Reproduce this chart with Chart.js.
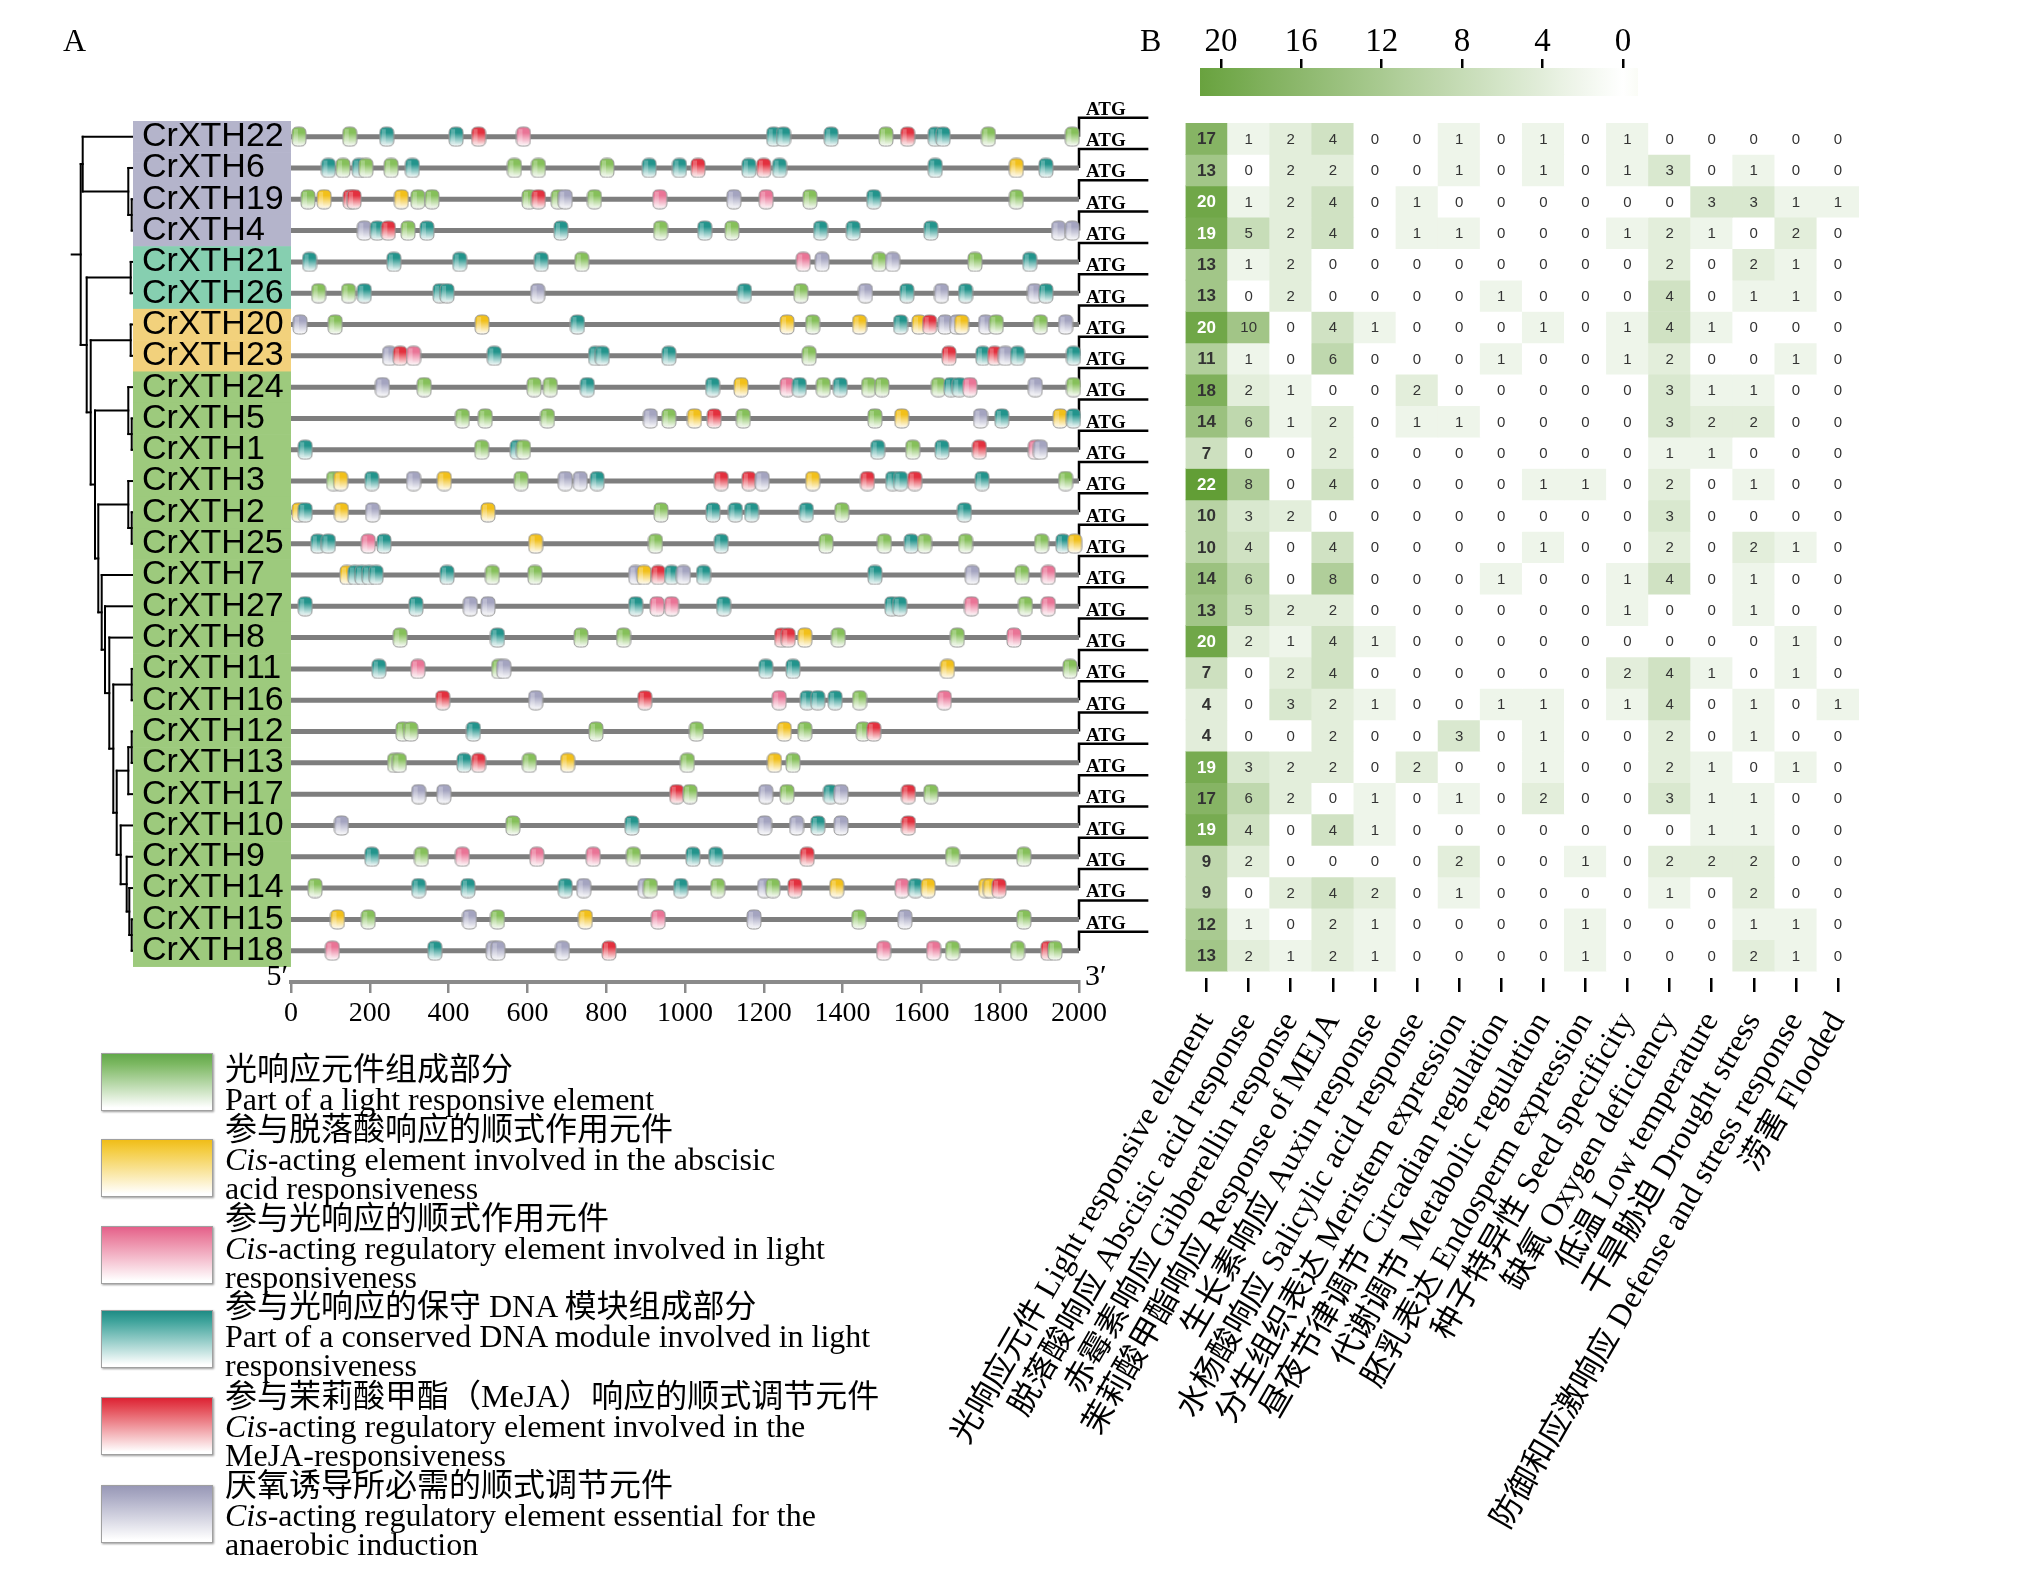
<!DOCTYPE html>
<html><head><meta charset="utf-8">
<script src="https://cdn.jsdelivr.net/npm/chart.js@4.4.1/dist/chart.umd.min.js"></script>
<style>
html,body{margin:0;padding:0;background:#fff;}
#page{position:relative;width:2023px;height:1577px;overflow:hidden;background:#fff;}
canvas{position:absolute;}
.panel{position:absolute;font-family:'Liberation Serif',serif;font-size:32px;line-height:36px;color:#000;}
.lg-box{position:absolute;left:101px;width:110px;height:56px;border:1px solid #a0a0a0;box-shadow:1px 1px 2px rgba(0,0,0,0.4);}
.lg-text{position:absolute;left:225px;font-family:'Liberation Serif','Noto Sans CJK SC',serif;font-size:32px;line-height:29.5px;white-space:nowrap;color:#000;}
</style></head>
<body><div id="page">
<canvas id="dendro" width="80" height="1060" style="left:60px;top:0;width:80px;height:1060px"></canvas>
<canvas id="tracks" width="1200" height="1060" style="left:0;top:0;width:1200px;height:1060px"></canvas>
<canvas id="heat" width="1123" height="1577" style="left:900px;top:0;width:1123px;height:1577px"></canvas>
<canvas id="cbar" width="520" height="110" style="left:1150px;top:0;width:520px;height:110px"></canvas>

<div class="panel" style="left:63px;top:22px">A</div>
<div class="panel" style="left:1140px;top:22px">B</div>

<div class="lg-box" style="top:1053px;background:linear-gradient(to bottom,#62a84a 0%,#7cb862 18%,#ffffff 96%)"></div>
<div class="lg-text" style="top:1055px">光响应元件组成部分<br>Part of a light responsive element</div>
<div class="lg-box" style="top:1139px;background:linear-gradient(to bottom,#f0bd18 0%,#f4cc40 18%,#ffffff 96%)"></div>
<div class="lg-text" style="top:1115px">参与脱落酸响应的顺式作用元件<br><i>Cis</i>-acting element involved in the abscisic<br>acid responsiveness</div>
<div class="lg-box" style="top:1226px;background:linear-gradient(to bottom,#e4608a 0%,#ea7f9e 18%,#ffffff 96%)"></div>
<div class="lg-text" style="top:1204px">参与光响应的顺式作用元件<br><i>Cis</i>-acting regulatory element involved in light<br>responsiveness</div>
<div class="lg-box" style="top:1310px;background:linear-gradient(to bottom,#1f8b84 0%,#3ea39b 18%,#ffffff 96%)"></div>
<div class="lg-text" style="top:1292px">参与光响应的保守 DNA 模块组成部分<br>Part of a conserved DNA module involved in light<br>responsiveness</div>
<div class="lg-box" style="top:1397px;background:linear-gradient(to bottom,#dd2233 0%,#e44a55 18%,#ffffff 96%)"></div>
<div class="lg-text" style="top:1382px">参与茉莉酸甲酯（MeJA）响应的顺式调节元件<br><i>Cis</i>-acting regulatory element involved in the<br>MeJA-responsiveness</div>
<div class="lg-box" style="top:1485px;background:linear-gradient(to bottom,#9898b6 0%,#aaaac4 18%,#ffffff 96%)"></div>
<div class="lg-text" style="top:1471px">厌氧诱导所必需的顺式调节元件<br><i>Cis</i>-acting regulatory element essential for the<br>anaerobic induction</div>
</div>
<script>
// ---------------- DATA ----------------
const genes = ['CrXTH22','CrXTH6','CrXTH19','CrXTH4','CrXTH21','CrXTH26','CrXTH20','CrXTH23','CrXTH24',
  'CrXTH5','CrXTH1','CrXTH3','CrXTH2','CrXTH25','CrXTH7','CrXTH27','CrXTH8','CrXTH11','CrXTH16',
  'CrXTH12','CrXTH13','CrXTH17','CrXTH10','CrXTH9','CrXTH14','CrXTH15','CrXTH18'];
const cladeGroup = [0,0,0,0,1,1,2,2,3,3,3,3,3,3,3,3,3,3,3,3,3,3,3,3,3,3,3];

// element sites per gene: type code + position (bp); G light-part, Y ABA, P light cis, T conserved DNA module, R MeJA, A anaerobic
const elementSites = [
"G20 G149 T243 T419 R476 P590 T1225 T1250 T1371 G1510 R1565 T1635 T1655 G1770 G1983",
"T95 G132 T173 G190 G254 T308 G567 G628 G802 T909 T986 R1033 T1162 R1200 T1240 T1635 Y1841 T1916",
"G43 Y84 R150 R160 Y280 G322 G358 G604 R628 G678 A696 G770 P936 A1124 P1206 G1317 T1479 G1841",
"A186 T219 R247 G297 T345 T685 G938 T1050 G1119 T1344 T1427 T1624 A1948 A1983",
"T47 T261 T428 T635 G738 P1300 A1348 G1493 A1527 G1736 T1875",
"G70 G146 T186 T378 T396 A626 T1151 G1294 A1458 T1563 A1651 T1712 A1887 T1916",
"A23 G112 Y485 T727 Y1259 G1324 Y1443 T1547 Y1594 R1621 A1660 A1690 Y1702 A1763 G1790 G1902 A1966",
"A250 R277 P311 T516 T773 T790 T959 G1315 R1670 T1756 R1786 A1813 T1844 T1986",
"A232 G338 G617 G658 T752 T1070 Y1142 P1259 T1290 G1351 T1394 G1466 G1500 G1643 T1675 T1696 P1723 A1889 G1986",
"G435 G493 G651 A912 G959 Y1024 R1074 G1148 G1482 Y1550 A1750 T1804 Y1952 T1986",
"T36 G484 T574 G590 T1489 G1578 T1652 R1747 P1889 A1902",
"G108 Y126 T205 A311 Y389 G584 A696 A734 T777 R1092 R1162 A1196 Y1324 R1463 T1527 T1547 R1583 T1754 G1966",
"Y20 T36 Y128 A207 Y500 G939 T1071 T1128 T1169 T1308 G1398 T1709",
"T68 T95 P196 T236 Y621 G925 T1092 G1358 G1506 T1574 G1608 G1712 G1905 T1959 Y1989",
"Y142 T162 T180 T198 T216 T396 G511 G619 A875 Y896 R932 T966 A996 T1047 T1482 A1729 G1855 P1922",
"T36 T317 A455 A500 T875 P929 P966 T1098 T1525 T1545 P1727 G1864 P1922",
"G277 T524 G736 G844 R1245 R1262 Y1304 G1389 G1691 P1835",
"T223 P322 G527 A540 T1205 T1274 Y1666 G1977",
"R385 A621 R898 P1239 T1310 T1337 T1381 G1443 P1658",
"G284 G304 T463 G774 G1029 Y1252 G1304 G1452 R1479",
"G263 G275 T439 R476 G605 Y702 G1006 Y1227 G1274",
"A324 A388 R979 G1013 A1205 G1259 T1369 A1396 R1567 G1624",
"A128 G563 T865 A1202 A1283 T1337 A1396 R1567",
"T205 G331 P435 P624 P767 G869 T1020 T1078 R1310 G1679 G1860",
"G61 T324 T449 T696 A743 A898 G912 T989 G1083 A1202 G1223 R1279 Y1385 P1551 T1585 Y1617 Y1763 Y1775 R1797",
"Y118 G196 A453 G524 Y747 P932 A1175 G1441 A1558 G1860",
"P105 T365 A513 A525 A689 R807 P1504 P1631 G1679 G1844 R1921 G1939"
];
const trackLength = 2000;
const trackTicks = [0,200,400,600,800,1000,1200,1400,1600,1800,2000];

// dendrogram (leaf = gene index, node = [height, childA, childB])
const cladeL = [12.3, 22, [6.3, 23, [3.7, 24, [1.3, 25, 26]]]];
const cladeK = [16.3, [4.7, [1.3, 19, 20], 21], cladeL];
const cladeJ = [19.7, [1.3, 17, 18], cladeK];
const cladeI = [23.7, 16, cladeJ];
const cladeH = [28, 15, cladeI];
const cladeG = [31.3, 14, cladeH];
const cladeF = [34.7, [4.7, 11, [1.3, 12, 13]], cladeG];
const cladeE = [38, [4.7, 8, [1.3, 9, 10]], cladeF];
const cladeD = [42.3, [2.3, 6, 7], cladeE];
const cladeC = [46.3, [2.3, 4, 5], cladeD];
const cladeA = [50.3, 0, [4.7, 1, [1.3, 2, 3]]];
const dendroRoot = [52.3, cladeA, cladeC];
const rootStub = 61.3;

const responseCategories = [
 '光响应元件 Light responsive element','脱落酸响应 Abscisic acid response','赤霉素响应 Gibberellin response',
 '茉莉酸甲酯响应 Response of MEJA','生长素响应 Auxin response','水杨酸响应 Salicylic acid response',
 '分生组织表达 Meristem expression','昼夜节律调节 Circadian regulation','代谢调节 Metabolic regulation',
 '胚乳表达 Endosperm expression','种子特异性 Seed specificity','缺氧 Oxygen deficiency','低温 Low temperature',
 '干旱胁迫 Drought stress','防御和应激响应 Defense and stress response','涝害 Flooded'];
const elementCounts = [
 [17,1,2,4,0,0,1,0,1,0,1,0,0,0,0,0],
 [13,0,2,2,0,0,1,0,1,0,1,3,0,1,0,0],
 [20,1,2,4,0,1,0,0,0,0,0,0,3,3,1,1],
 [19,5,2,4,0,1,1,0,0,0,1,2,1,0,2,0],
 [13,1,2,0,0,0,0,0,0,0,0,2,0,2,1,0],
 [13,0,2,0,0,0,0,1,0,0,0,4,0,1,1,0],
 [20,10,0,4,1,0,0,0,1,0,1,4,1,0,0,0],
 [11,1,0,6,0,0,0,1,0,0,1,2,0,0,1,0],
 [18,2,1,0,0,2,0,0,0,0,0,3,1,1,0,0],
 [14,6,1,2,0,1,1,0,0,0,0,3,2,2,0,0],
 [7,0,0,2,0,0,0,0,0,0,0,1,1,0,0,0],
 [22,8,0,4,0,0,0,0,1,1,0,2,0,1,0,0],
 [10,3,2,0,0,0,0,0,0,0,0,3,0,0,0,0],
 [10,4,0,4,0,0,0,0,1,0,0,2,0,2,1,0],
 [14,6,0,8,0,0,0,1,0,0,1,4,0,1,0,0],
 [13,5,2,2,0,0,0,0,0,0,1,0,0,1,0,0],
 [20,2,1,4,1,0,0,0,0,0,0,0,0,0,1,0],
 [7,0,2,4,0,0,0,0,0,0,2,4,1,0,1,0],
 [4,0,3,2,1,0,0,1,1,0,1,4,0,1,0,1],
 [4,0,0,2,0,0,3,0,1,0,0,2,0,1,0,0],
 [19,3,2,2,0,2,0,0,1,0,0,2,1,0,1,0],
 [17,6,2,0,1,0,1,0,2,0,0,3,1,1,0,0],
 [19,4,0,4,1,0,0,0,0,0,0,0,1,1,0,0],
 [9,2,0,0,0,0,2,0,0,1,0,2,2,2,0,0],
 [9,0,2,4,2,0,1,0,0,0,0,1,0,2,0,0],
 [12,1,0,2,1,0,0,0,0,1,0,0,0,1,1,0],
 [13,2,1,2,1,0,0,0,0,1,0,0,0,2,1,0]];
const colorbarTicks = [20,16,12,8,4,0];

// ---------------- STYLE ----------------
const cladeColors = ['#b4b4cb','#86cfb0','#f2d17c','#9dca7d'];
const glyphColors = {G:'#86c05a', Y:'#f2c01a', P:'#ea7496', T:'#22948c', R:'#e3303e', A:'#a4a4c0'};
const serif = "'Liberation Serif', 'Noto Sans CJK SC', serif";
const bracketRise = 0.607;
const atgArrowEnd = 2176;

function mix(t){
  t = Math.max(0, Math.min(1, t));
  const a=[255,255,255], b=[98,158,54];
  return 'rgb(' + a.map((v,k)=>Math.round(v+(b[k]-v)*t)).join(',') + ')';
}
function cellColor(v, col){
  if (v === 0) return '#ffffff';
  const t = col === 0 ? v/22 : Math.pow(v/20, 0.75);
  return mix(t);
}
function makeGlyph(color){
  const c = document.createElement('canvas'); c.width = 16; c.height = 21;
  const g = c.getContext('2d');
  const grd = g.createLinearGradient(0, 1, 0, 20);
  grd.addColorStop(0, color); grd.addColorStop(0.3, color); grd.addColorStop(1, '#ffffff');
  g.beginPath();
  const x0=1, y0=1, w=14, h=19, r=5.5;
  g.moveTo(x0+r, y0); g.lineTo(x0+w-r, y0); g.quadraticCurveTo(x0+w, y0, x0+w, y0+r);
  g.lineTo(x0+w, y0+h-r); g.quadraticCurveTo(x0+w, y0+h, x0+w-r, y0+h);
  g.lineTo(x0+r, y0+h); g.quadraticCurveTo(x0, y0+h, x0, y0+h-r);
  g.lineTo(x0, y0+r); g.quadraticCurveTo(x0, y0, x0+r, y0); g.closePath();
  g.fillStyle = grd; g.fill();
  g.strokeStyle = '#949494'; g.lineWidth = 1; g.stroke();
  g.fillStyle = 'rgba(255,255,255,0.25)'; g.fillRect(3, 3, 4, 14);
  return c;
}
const glyphs = {}; Object.keys(glyphColors).forEach(k => glyphs[k] = makeGlyph(glyphColors[k]));

// ---------------- TRACKS ----------------
const sitePoints = [];
elementSites.forEach((s, i) => {
  s.trim().split(/\s+/).forEach(tok => sitePoints.push({x: +tok.slice(1), y: i, t: tok[0]}));
});
const lineSets = genes.map((g, i) => ({
  data: [{x: 0, y: i}, {x: trackLength, y: i}], showLine: true, borderColor: '#7e7e7e',
  borderWidth: 5, pointRadius: 0, order: 2, clip: false
}));
const bracketSets = genes.map((g, i) => ({
  data: [{x: trackLength, y: i}, {x: trackLength, y: i - bracketRise}, {x: atgArrowEnd, y: i - bracketRise}],
  showLine: true, borderColor: '#000', borderWidth: 2.5, pointRadius: 0, order: 3, clip: false, tension: 0
}));
const cladeBoxes = {
  id: 'cladeBoxes',
  beforeDraw(chart){
    const {ctx, scales: {y}, chartArea} = chart;
    ctx.save();
    genes.forEach((g, i) => {
      const t = y.getPixelForValue(i - 0.5), b = y.getPixelForValue(i + 0.5);
      ctx.fillStyle = cladeColors[cladeGroup[i]];
      ctx.fillRect(133, t, chartArea.left - 133, b - t + 0.6);
    });
    ctx.restore();
  }
};
const atgLabels = {
  id: 'atgLabels',
  afterDatasetsDraw(chart){
    const {ctx, scales: {x, y}, chartArea} = chart;
    ctx.save();
    ctx.fillStyle = '#000';
    ctx.font = 'bold 19px "Liberation Serif", serif';
    ctx.textAlign = 'left'; ctx.textBaseline = 'alphabetic';
    genes.forEach((g, i) => {
      ctx.fillText('ATG', x.getPixelForValue(trackLength) + 7, y.getPixelForValue(i - bracketRise) - 3);
    });
    ctx.font = '30px "Liberation Serif", serif';
    ctx.textBaseline = 'middle';
    ctx.textAlign = 'right';
    ctx.fillText('5\u2032', x.getPixelForValue(0) - 3, chartArea.bottom - 5);
    ctx.textAlign = 'left';
    ctx.fillText('3\u2032', x.getPixelForValue(trackLength) + 6, chartArea.bottom - 5);
    ctx.restore();
  }
};
new Chart(document.getElementById('tracks'), {
  type: 'scatter',
  data: { datasets: [
    { data: sitePoints, pointStyle: c => glyphs[c.raw ? c.raw.t : 'G'], pointRadius: 8, order: 0, clip: false },
    ...lineSets, ...bracketSets ] },
  options: {
    responsive: false, animation: false, events: [],
    layout: { padding: { left: 142, top: 121, right: 121, bottom: 18 } },
    plugins: { legend: { display: false }, tooltip: { enabled: false } },
    scales: {
      x: { type: 'linear', bounds: 'data',
        afterDataLimits: s => { s.min = 0; s.max = trackLength; },
        afterBuildTicks: s => { s.ticks = trackTicks.map(v => ({value: v})); },
        afterFit: s => { s.height = 60; },
        grid: { display: true, drawOnChartArea: false, drawTicks: true, tickLength: 11, color: '#8a8a8a', lineWidth: 2.5 },
        border: { display: true, color: '#8a8a8a', width: 4 },
        ticks: { autoSkip: false, maxRotation: 0, padding: 4, color: '#000', callback: v => String(v),
          font: { family: "'Liberation Serif', serif", size: 28 } }
      },
      y: { type: 'linear', reverse: true, min: -0.5, max: 27.0,
        afterBuildTicks: s => { s.ticks = genes.map((g, i) => ({value: i})); },
        afterFit: s => { s.width = 149; },
        grid: { display: false }, border: { display: false },
        ticks: { autoSkip: false, crossAlign: 'far', padding: 0, color: '#000',
          callback: v => genes[v], font: { family: "'Liberation Sans', Arial, sans-serif", size: 34 } }
      }
    }
  },
  plugins: [cladeBoxes, atgLabels]
});

// ---------------- DENDROGRAM ----------------
const dendroSegs = [];
function walk(node){
  if (typeof node === 'number') return {y: node, h: 0};
  const [h, a, b] = node;
  const A = walk(a), B = walk(b);
  dendroSegs.push([[A.h, A.y], [h, A.y]]);
  dendroSegs.push([[B.h, B.y], [h, B.y]]);
  dendroSegs.push([[h, A.y], [h, B.y]]);
  return {y: (A.y + B.y) / 2, h};
}
const rootPos = walk(dendroRoot);
dendroSegs.push([[rootPos.h, rootPos.y], [rootStub, rootPos.y]]);
new Chart(document.getElementById('dendro'), {
  type: 'scatter',
  data: { datasets: dendroSegs.map(s => ({ data: s.map(([x, y]) => ({x, y})), showLine: true,
    borderColor: '#000', borderWidth: 2, pointRadius: 0, clip: false, borderCapStyle: 'square' })) },
  options: {
    responsive: false, animation: false, events: [],
    layout: { padding: { left: 10, right: 7, top: 121, bottom: 78 } },
    plugins: { legend: { display: false }, tooltip: { enabled: false } },
    scales: {
      x: { type: 'linear', display: false, reverse: true, min: 0, max: 63 },
      y: { type: 'linear', display: false, reverse: true, min: -0.5, max: 27.0 }
    }
  }
});

// ---------------- HEATMAP ----------------
const cellText = {
  id: 'cellText',
  afterDatasetsDraw(chart){
    const ctx = chart.ctx;
    ctx.save();
    ctx.textAlign = 'center'; ctx.textBaseline = 'middle';
    chart.data.datasets.forEach((ds, i) => {
      chart.getDatasetMeta(i).data.forEach((el, j) => {
        const v = elementCounts[i][j];
        ctx.fillStyle = (j === 0 && v >= 19) ? '#ffffff' : '#333333';
        ctx.font = j === 0 ? 'bold 17px "Liberation Sans Narrow", "Liberation Sans", sans-serif'
                           : '15px "Liberation Sans Narrow", "Liberation Sans", sans-serif';
        ctx.fillText(String(v), el.x, (el.y + el.base) / 2 + 1);
      });
    });
    ctx.restore();
  }
};
new Chart(document.getElementById('heat'), {
  type: 'bar',
  data: { labels: responseCategories,
    datasets: elementCounts.map((row, i) => ({
      label: genes[i], data: row.map(() => 1),
      backgroundColor: row.map((v, j) => cellColor(v, j)),
      borderWidth: 0, barPercentage: 1, categoryPercentage: 1
    })) },
  options: {
    responsive: false, animation: false, events: [],
    layout: { padding: { left: 285.5, right: 164, top: 123, bottom: 0 } },
    plugins: { legend: { display: false }, tooltip: { enabled: false } },
    scales: {
      x: { stacked: true, afterFit: s => { s.height = 599; },
        grid: { display: true, offset: false, drawOnChartArea: false, drawTicks: true, tickLength: 14, color: '#000', lineWidth: 2.5 },
        border: { display: false },
        ticks: { autoSkip: false, minRotation: 60, maxRotation: 60, padding: 14, color: '#000',
          font: { family: serif, size: 32 } }
      },
      y: { stacked: true, display: false, reverse: true, min: 0, max: 27.22 }
    }
  },
  plugins: [cellText]
});

// ---------------- COLOR BAR ----------------
new Chart(document.getElementById('cbar'), {
  type: 'bar',
  data: { labels: ['scale'], datasets: [{
    data: [[-0.75, 21.04]], borderWidth: 0, barPercentage: 1, categoryPercentage: 1,
    backgroundColor: c => {
      const ch = c.chart, a = ch.chartArea;
      if (!a) return '#9c9';
      const xs = ch.scales.x;
      const g = ch.ctx.createLinearGradient(a.left, 0, a.right, 0);
      for (let v = 21; v >= 0; v--) {
        const p = (xs.getPixelForValue(v) - a.left) / (a.right - a.left);
        g.addColorStop(Math.max(0, Math.min(1, p)), mix(v / 22));
      }
      g.addColorStop(1, '#fafcf6');
      return g;
    }
  }] },
  options: {
    indexAxis: 'y', responsive: false, animation: false, events: [],
    layout: { padding: { left: 50, right: 32, top: 0, bottom: 14 } },
    plugins: { legend: { display: false }, tooltip: { enabled: false } },
    scales: {
      x: { type: 'linear', position: 'top', reverse: true, min: -0.75, max: 21.04,
        afterBuildTicks: s => { s.ticks = colorbarTicks.map(v => ({value: v})); },
        afterFit: s => { s.height = 68; },
        grid: { display: true, drawOnChartArea: false, drawTicks: true, tickLength: 9, color: '#000', lineWidth: 2.5 },
        border: { display: false },
        ticks: { padding: -3, color: '#000', font: { family: "'Liberation Serif', serif", size: 33 } }
      },
      y: { display: false }
    }
  }
});
</script>
</body></html>
